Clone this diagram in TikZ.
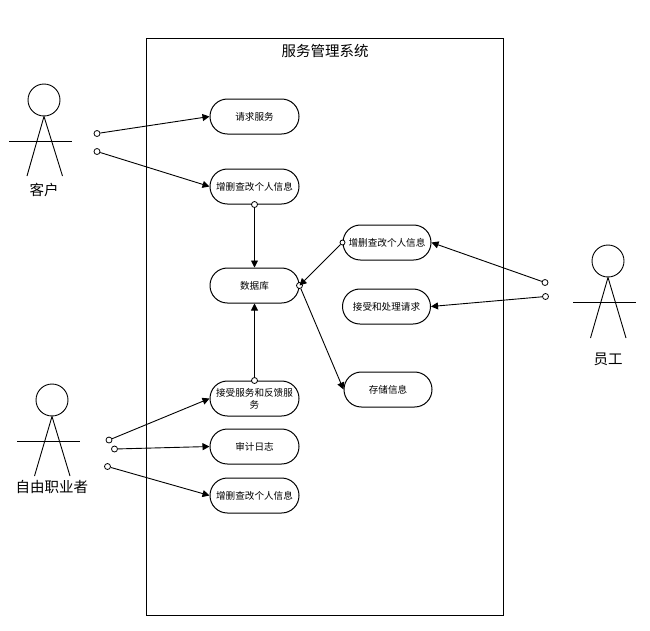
\documentclass[tikz,border=0pt]{standalone}
\usepackage{fontspec}
\setmainfont{Noto Sans CJK SC}
\usetikzlibrary{arrows.meta}
\tikzset{
  usecase/.style={draw=black,line width=1pt,fill=white,rounded corners=17.4pt,minimum width=89pt,minimum height=35pt,inner sep=0pt,align=center,font=\fontsize{9.6}{12}\selectfont},
  port/.style={circle,draw=black,line width=0.8pt,fill=white,minimum size=6pt,inner sep=0pt},
  head/.style={circle,draw=black,line width=0.9pt,minimum size=32pt,inner sep=0pt},
  limb/.style={draw=black,line width=0.9pt},
  actorlabel/.style={font=\fontsize{14.5}{16}\selectfont,inner sep=0pt},
  link/.style={draw=black,line width=0.9pt,-{Triangle[length=7pt,width=7pt]}}
}
\begin{document}
\begin{tikzpicture}[x=1pt,y=-1pt]
\useasboundingbox (0,0) rectangle (650,630);
\fill[white] (0,0) rectangle (650,630);
% system boundary
\node[draw=black,line width=1pt,minimum width=357pt,minimum height=577pt,inner sep=0pt] (system) at (325,326.5) {};
\node[font=\fontsize{14.5}{16}\selectfont,inner sep=0pt] (title) at (325,51) {服务管理系统};
% use cases
\node[usecase] (request) at (254.5,116.5) {请求服务};
\node[usecase] (crudA) at (254.5,186.5) {增删查改个人信息};
\node[usecase] (db) at (254.5,285.5) {数据库};
\node[usecase,minimum width=88pt] (crudB) at (387,242.5) {增删查改个人信息};
\node[usecase,minimum width=88pt] (handle) at (386.5,306.5) {接受和处理请求};
\node[usecase,minimum width=88pt] (store) at (388,389.5) {存储信息};
\node[usecase] (feedback) at (254.5,398.5) {接受服务和反馈服\\务};
\node[usecase] (audit) at (254.5,446.5) {审计日志};
\node[usecase] (crudC) at (254.5,495.5) {增删查改个人信息};
% actors
\node[head] (headA) at (44,100) {};
\coordinate (armAl) at (9,141); \coordinate (armAr) at (72,141);
\coordinate (legAl) at (27,176); \coordinate (legAr) at (62.5,176);
\draw[limb] (armAl) -- (armAr);
\draw[limb] (legAl) -- (headA.south) -- (legAr);
\node[actorlabel] (labelA) at (44,190) {客户};
\node[head] (headB) at (52,400) {};
\coordinate (armBl) at (17,441); \coordinate (armBr) at (80,441);
\coordinate (legBl) at (34.5,476); \coordinate (legBr) at (70,476);
\draw[limb] (armBl) -- (armBr);
\draw[limb] (legBl) -- (headB.south) -- (legBr);
\node[actorlabel] (labelB) at (52,487) {自由职业者};
\node[head] (headC) at (608,261) {};
\coordinate (armCl) at (573,302); \coordinate (armCr) at (636,302);
\coordinate (legCl) at (590.5,338); \coordinate (legCr) at (626,338);
\draw[limb] (armCl) -- (armCr);
\draw[limb] (legCl) -- (headC.south) -- (legCr);
\node[actorlabel] (labelC) at (608,359) {员工};
% ports
\node[port] (pA1) at (97,133.5) {};
\node[port] (pA2) at (97,151.5) {};
\node[port] (pB1) at (109,440) {};
\node[port] (pB2) at (114.5,449) {};
\node[port] (pB3) at (107.5,466.5) {};
\node[port] (pC1) at (545,282.5) {};
\node[port] (pC2) at (545.5,296.5) {};
\node[port] (pCrudA) at (crudA.south) {};
\node[port] (pFeed) at (feedback.north) {};
\node[port,minimum size=5pt] (pCrudB) at (crudB.west) {};
\node[port] (pDb) at (db.east) {};
% connectors
\draw[link] (pA1) -- (request.west);
\draw[link] (pA2) -- (crudA.west);
\draw[link] (pB1) -- (feedback.west);
\draw[link] (pB2) -- (audit.west);
\draw[link] (pB3) -- (crudC.west);
\draw[link] (pC1) -- (crudB.east);
\draw[link] (pC2) -- (handle.east);
\draw[link] (pCrudA) -- (db.north);
\draw[link] (pFeed) -- (db.south);
\draw[link] (pCrudB) -- (db.east);
\draw[link] (pDb) -- (store.west);
\end{tikzpicture}
\end{document}
